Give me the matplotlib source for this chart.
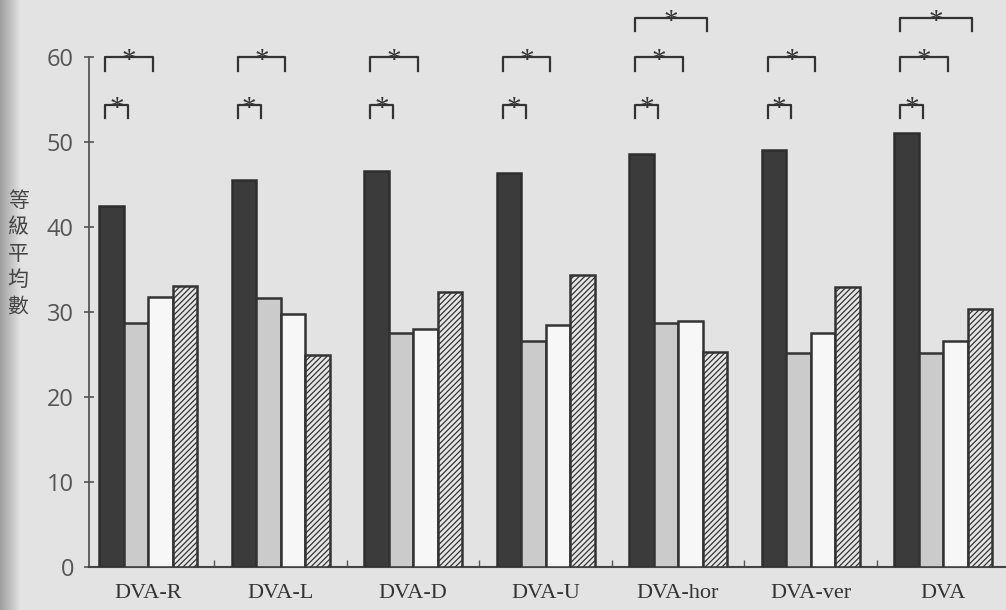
import matplotlib
matplotlib.use('Agg')
import matplotlib.pyplot as plt
import numpy as np

# data
groups = ['DVA-R', 'DVA-L', 'DVA-D', 'DVA-U', 'DVA-hor', 'DVA-ver', 'DVA']
series_a = [42.5, 45.5, 46.6, 46.3, 48.6, 49.0, 51.0]   # dark
series_b = [28.7, 31.6, 27.5, 26.6, 28.7, 25.2, 25.2]   # light grey
series_c = [31.8, 29.8, 28.0, 28.5, 28.9, 27.5, 26.6]   # white
series_d = [33.1, 24.9, 32.3, 34.3, 25.3, 32.9, 30.3]   # hatched
# significant comparisons: (group index, index of compared bar) -> all vs dark bar
sig_pairs = [(0, 1), (0, 2), (1, 1), (1, 2), (2, 1), (2, 2), (3, 1), (3, 2),
             (4, 1), (4, 2), (4, 3), (5, 1), (5, 2), (6, 1), (6, 2), (6, 3)]
y_ticks = [0, 10, 20, 30, 40, 50, 60]
y_title = '等級平均數'

bg = '#e3e3e3'
fig = plt.figure(figsize=(10.06, 6.10), dpi=100, facecolor=bg)

# darker strip at the left edge of the scanned page
strip = fig.add_axes([0, 0, 0.02, 1])
strip.imshow(np.linspace(0.62, 0.89, 50).reshape(1, -1), cmap='gray', vmin=0, vmax=1,
             aspect='auto', extent=[0, 1, 0, 1])
strip.axis('off')

ax = fig.add_axes([0.088, 0.0705, 0.912, 0.9295])
ax.set_facecolor('none')

x = np.arange(len(groups))
w = 0.185
styles = [
    dict(color='#3b3b3b', edgecolor='#2e2e2e'),
    dict(color='#cbcbcb', edgecolor='#333333'),
    dict(color='#f7f7f7', edgecolor='#333333'),
    dict(color='#e6e6e6', edgecolor='#333333', hatch='//////'),
]
plt.rcParams['hatch.color'] = '#555555'
plt.rcParams['hatch.linewidth'] = 0.9
all_series = [series_a, series_b, series_c, series_d]
for k, vals in enumerate(all_series):
    ax.bar(x + (k - 1.5) * w, vals, w, linewidth=1.8, zorder=3, **styles[k])

# significance brackets
levels = {1: 54.4, 2: 60.0, 3: 64.6}
for g, k in sig_pairs:
    x0 = x[g] - 1.5 * w - 0.25 * w
    x1 = x[g] + (k - 1.5) * w - 0.3 * w
    y = levels[k]
    ax.plot([x0, x0, x1, x1], [y - 1.6, y, y, y - 1.6], color='#333333', lw=1.6,
            clip_on=False, zorder=4)
    ax.text((x0 + x1) / 2, y - 1.35, '*', ha='center', va='baseline', fontsize=21,
            family='Liberation Serif', color='#333333', zorder=5)

ax.set_xlim(-0.449, 6.475)
ax.set_ylim(0, 66.7)
ax.spines['top'].set_visible(False)
ax.spines['right'].set_visible(False)
ax.spines['left'].set_bounds(0, 60)
ax.spines['left'].set_color('#555555')
ax.spines['bottom'].set_color('#444444')
ax.spines['left'].set_linewidth(1.3)
ax.spines['bottom'].set_linewidth(1.5)

ax.set_yticks(y_ticks)
ax.set_yticklabels([str(t) for t in y_ticks], family='Open Sans', fontsize=17,
                   color='#555555')
ax.tick_params(axis='y', direction='inout', length=7, width=1.2, color='#555555', pad=7)

ax.set_xticks(x)
ax.set_xticklabels(groups, family='Liberation Serif', fontsize=16, color='#333333')
ax.tick_params(axis='x', length=0, pad=12)
ax.set_xticks(x[:-1] + 0.5, minor=True)
ax.tick_params(axis='x', which='minor', direction='in', length=5, width=1.0,
               color='#555555')

fig.text(0.018, 0.584, '\n'.join(y_title), family=['Noto Sans CJK TC', 'DejaVu Sans'],
         fontsize=15, color='#444444', ha='center', va='center', linespacing=1.25)

fig.savefig('out.png', dpi=100, facecolor=bg)
